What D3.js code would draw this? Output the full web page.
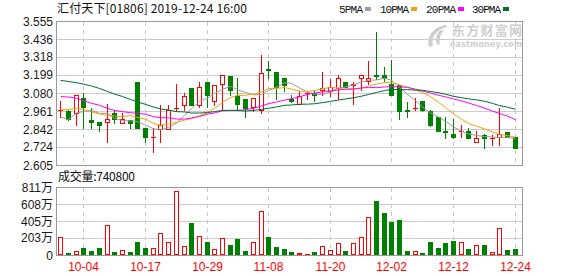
<!DOCTYPE html>
<html><head><meta charset="utf-8">
<script src="https://cdn.jsdelivr.net/npm/d3@7"></script>
<style>body{margin:0;background:#fff;}svg{display:block;}</style>
</head><body>
<svg id="c" width="578" height="276"></svg>
<script>
const dates = ["09-30","10-02","10-03","10-04","10-08","10-09","10-10","10-11","10-14","10-15","10-16","10-17","10-18","10-21","10-22","10-23","10-24","10-25","10-28","10-29","10-30","10-31","11-01","11-04","11-05","11-06","11-07","11-08","11-11","11-12","11-13","11-14","11-15","11-18","11-19","11-20","11-21","11-22","11-25","11-26","11-27","11-28","11-29","12-02","12-03","12-04","12-05","12-06","12-09","12-10","12-11","12-12","12-13","12-16","12-17","12-18","12-19","12-20","12-23","12-24"];
const opens  = [2.97,2.96,2.95,3.05,2.90,2.89,2.89,2.95,2.88,2.90,3.15,2.85,2.79,2.84,2.84,2.98,3.00,3.11,3.00,3.15,3.03,3.14,3.19,3.06,3.04,2.99,2.97,3.24,3.22,3.18,3.04,3.01,3.08,3.08,3.10,3.09,3.11,3.15,3.13,3.18,3.16,3.20,3.20,3.14,3.13,2.97,2.98,3.03,2.96,2.92,2.83,2.81,2.83,2.83,2.76,2.80,2.78,2.79,2.82,2.79];
const highs  = [3.03,2.97,3.07,3.08,2.98,2.89,3.01,2.97,2.95,2.90,3.15,2.85,2.85,3.00,3.00,3.14,3.08,3.11,3.15,3.15,3.13,3.20,3.19,3.18,3.04,3.05,3.33,3.29,3.22,3.18,3.07,3.09,3.09,3.09,3.22,3.17,3.20,3.15,3.15,3.20,3.29,3.48,3.25,3.30,3.13,3.02,3.05,3.03,2.97,2.92,2.92,2.91,2.87,2.85,2.83,2.81,2.80,2.98,2.82,2.79];
const lows   = [2.92,2.90,2.87,2.85,2.85,2.83,2.76,2.88,2.88,2.85,2.85,2.76,2.69,2.76,2.84,2.96,2.97,3.00,2.99,2.99,3.00,2.97,3.07,2.97,2.92,2.96,2.95,3.18,3.04,3.09,3.02,3.01,3.04,3.03,3.07,3.06,3.04,3.12,3.01,3.10,3.14,3.17,3.16,3.07,2.91,2.92,2.97,2.96,2.86,2.83,2.78,2.78,2.79,2.78,2.76,2.72,2.74,2.74,2.79,2.72];
const closes = [2.97,2.91,3.07,2.99,2.89,2.87,2.91,2.91,2.91,2.88,2.85,2.79,2.79,2.87,2.97,2.98,3.06,3.00,3.12,3.07,3.13,3.20,3.10,3.01,2.98,3.05,3.21,3.23,3.12,3.13,3.03,3.06,3.08,3.07,3.11,3.12,3.18,3.12,3.14,3.20,3.18,3.19,3.18,3.07,2.96,2.96,2.98,2.97,2.87,2.83,2.82,2.79,2.83,2.78,2.78,2.78,2.78,2.81,2.79,2.72];
// volume in 万股
const volumes = [211,24,44,84,48,84,354,36,56,36,155,84,84,259,151,760,107,382,227,155,72,203,119,191,48,151,525,215,95,72,32,20,12,32,107,56,140,48,140,215,453,644,501,394,418,44,44,20,155,84,143,167,151,72,116,119,32,318,60,74.08];
// MA values before the averaging window is full
const ma5Lead  = [2.922,2.905,2.948,2.957];
const ma10Lead = [2.968,2.972,2.979,2.972,2.955,2.942,2.932,2.928,2.924];
const ma20Lead = [3.056,3.054,3.045,3.029,3.012,2.999,2.979,2.965,2.957,2.950,2.946,2.940,2.924,2.917,2.917,2.908,2.908,2.915,2.925];
const ma30Lead = [3.163,3.156,3.148,3.139,3.126,3.110,3.090,3.073,3.057,3.037,3.021,3.005,2.988,2.975,2.968,2.957,2.955,2.948,2.948,2.951,2.957,2.965,2.966,2.965,2.961,2.965,2.972,2.979,2.988];
const xTickDates = ["10-04","10-17","10-29","11-08","11-20","12-02","12-12","12-24"];
const priceTicks = [2.605,2.724,2.842,2.961,3.080,3.199,3.318,3.436,3.555];
const volTicks = [0,203,405,608,811];
const volTickLabels = ["0","203万","405万","608万","811万"];
const maNames = ["5PMA","10PMA","20PMA","30PMA"];
const maColors = ["#9b9b9b","#f0a30a","#ff00ff","#006f2f"];
const titleText = "汇付天下[01806] 2019-12-24 16:00";
const volTitle = "成交量:740800";

const RED = "#ff0000", GREEN = "#008000";
const L = 56, R = 522, T = 21, B = 165, VT = 187, VB = 255;
const svg = d3.select("#c");
const FONT = "'Liberation Sans', 'Noto Sans CJK SC', sans-serif";

const x = d3.scaleBand().domain(dates).range([56.5, 518.5]);
const cx = d => Math.round(x(d) + x.bandwidth()/2);
const y = d3.scaleLinear().domain([2.605, 3.555]).range([B, T]);
const yv = d3.scaleLinear().domain([0, 811]).range([VB, VT]);

function ma(n, lead){ return closes.map((c,i)=> i < n-1 ? lead[i] : d3.mean(closes.slice(i-n+1,i+1))); }
const mas = [ma(5,ma5Lead), ma(10,ma10Lead), ma(20,ma20Lead), ma(30,ma30Lead)];

// watermark
const wm = svg.append("g").attr("fill","#cfcfcf");
wm.append("path").attr("d","M446,25 C434,27 426,35 429,47 L433,46 C431,37 436,30 447,27 Z");
wm.append("path").attr("d","M441,30 C436,33 435,39 437,45 L440,44 C439,39 440,34 444,31 Z");
wm.append("text").attr("x",452).attr("y",35).attr("font-family","'Noto Sans CJK SC'").attr("font-weight","bold")
  .attr("font-size",13).attr("textLength",70).text("东方财富网");
wm.append("text").attr("x",450).attr("y",47).attr("font-family","'DejaVu Sans'").attr("font-weight","bold")
  .attr("font-size",8).attr("textLength",72).text("eastmoney.com");

// grids
function hgrid(scale, vals, x0, x1){
  svg.append("g").selectAll("line").data(vals).join("line")
    .attr("x1",x0).attr("x2",x1)
    .attr("y1",d=>Math.round(scale(d))+0.5).attr("y2",d=>Math.round(scale(d))+0.5)
    .attr("stroke","#cccccc");
}
hgrid(y, priceTicks.slice(1,-1), L, R);
hgrid(yv, volTicks.slice(1,-1), L, R);
function vgrid(y0,y1){
  svg.append("g").selectAll("line").data(xTickDates).join("line")
    .attr("x1",d=>cx(d)+0.5).attr("x2",d=>cx(d)+0.5).attr("y1",y0).attr("y2",y1)
    .attr("stroke","#c8c8c8").attr("stroke-dasharray","4,4");
}
vgrid(T+1,B); vgrid(VT+1,VB);

// frames
svg.append("rect").attr("x",L+0.5).attr("y",T+0.5).attr("width",R-L).attr("height",B-T)
  .attr("fill","none").attr("stroke","#999");
svg.append("rect").attr("x",L+0.5).attr("y",VT+0.5).attr("width",R-L).attr("height",VB-VT)
  .attr("fill","none").attr("stroke","#999");

// y axis labels
svg.append("g").selectAll("text").data(priceTicks).join("text")
  .attr("x",53).attr("y",d=>y(d)+4.5).attr("text-anchor","end")
  .attr("font-family",FONT).attr("font-size",12).attr("fill","#1a1a1a")
  .text(d=>d.toFixed(3));
svg.append("g").selectAll("text").data(volTicks).join("text")
  .attr("x",53).attr("y",d=>yv(d)+4.5).attr("text-anchor","end")
  .attr("font-family",FONT).attr("font-size",12).attr("fill","#1a1a1a")
  .text((d,i)=>volTickLabels[i]);

// x labels
svg.append("g").selectAll("text").data(xTickDates).join("text")
  .attr("x",d=>cx(d)+0.5).attr("y",271).attr("text-anchor","middle")
  .attr("font-family",FONT).attr("font-size",12).attr("fill","#ff0000")
  .text(d=>d);

// titles
svg.append("text").attr("x",57).attr("y",13).attr("font-family","'Noto Sans CJK SC'").attr("font-size",12)
  .attr("fill","#111").attr("textLength",190).text(titleText);
svg.append("text").attr("x",58).attr("y",181).attr("font-family","'Noto Sans CJK SC'").attr("font-size",12)
  .attr("fill","#111").attr("textLength",77).text(volTitle);

// legend
const legX = [339,380,426,472], legW = [24,29,30,29];
maNames.forEach((n,i)=>{
  svg.append("text").attr("x",legX[i]).attr("y",13).attr("font-family","'Liberation Mono', monospace")
    .attr("font-size",11).attr("textLength",legW[i]).attr("fill","#111").text(n);
  svg.append("rect").attr("x",legX[i]+legW[i]+2).attr("y",7).attr("width",6).attr("height",4).attr("fill",maColors[i]);
});

// candles
const isUp = i => closes[i] >= opens[i];
const cg = svg.append("g");
dates.forEach((d,i)=>{
  const c = cx(d), col = isUp(i) ? RED : GREEN;
  const yh = Math.round(y(highs[i])), yl = Math.round(y(lows[i]));
  const yt = Math.round(y(Math.max(opens[i],closes[i]))), yb = Math.round(y(Math.min(opens[i],closes[i])));
  cg.append("line").attr("x1",c+0.5).attr("x2",c+0.5).attr("y1",yh).attr("y2",yl+1).attr("stroke",col);
  if (yb - yt < 1) {
    cg.append("rect").attr("x",c-2).attr("y",yt).attr("width",5).attr("height",1).attr("fill",col);
  } else if (isUp(i)) {
    cg.append("rect").attr("x",c-1.5).attr("y",yt+0.5).attr("width",4).attr("height",yb-yt)
      .attr("fill","#fff").attr("stroke",col);
  } else {
    cg.append("rect").attr("x",c-2).attr("y",yt).attr("width",5).attr("height",yb-yt+1).attr("fill",col);
  }
});

// MA lines
mas.forEach((arr,k)=>{
  svg.append("path").datum(arr)
    .attr("d", d3.line().x((v,i)=>cx(dates[i])+0.5).y(v=>y(v)))
    .attr("fill","none").attr("stroke",maColors[k]).attr("stroke-width",1);
});

// volume bars
const vg = svg.append("g");
dates.forEach((d,i)=>{
  const c = cx(d), col = isUp(i) ? RED : GREEN;
  const yt = Math.round(yv(volumes[i]));
  if (isUp(i) && VB - yt > 2) {
    vg.append("rect").attr("x",c-1.5).attr("y",yt+0.5).attr("width",4).attr("height",VB-yt-1)
      .attr("fill","#fff").attr("stroke",col);
  } else {
    vg.append("rect").attr("x",c-2).attr("y",yt).attr("width",5).attr("height",Math.max(1,VB-yt)).attr("fill",col);
  }
});
</script>
</body></html>
